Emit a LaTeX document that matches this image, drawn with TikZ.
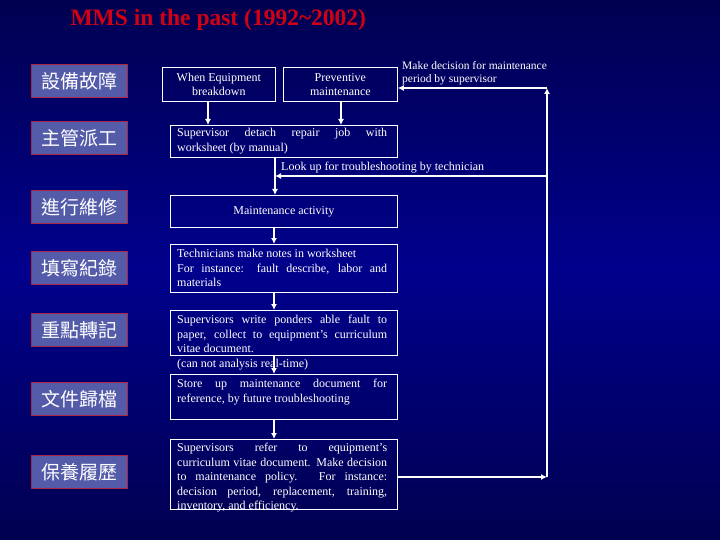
\documentclass[tikz,border=0pt]{standalone}
\usepackage{fontspec}
\setmainfont{Liberation Serif}
\newfontfamily\cjk{Noto Sans CJK TC}
\usetikzlibrary{arrows.meta}
\definecolor{bgmid}{RGB}{0,0,140}
\definecolor{bgedge}{RGB}{0,0,80}
\definecolor{lblfill}{RGB}{84,92,170}
\definecolor{lblborder}{RGB}{170,40,70}
\definecolor{titlered}{RGB}{210,0,20}
\hyphenpenalty=10000
\exhyphenpenalty=10000
\begin{document}
\begin{tikzpicture}[x=1pt,y=-1pt,
  lbl/.style={draw=lblborder,line width=1pt,fill=lblfill,minimum width=96pt,minimum height=33pt,inner sep=0pt,text=white,font=\cjk\fontsize{19}{22}\selectfont},
  box/.style={draw=white,line width=0.8pt,inner sep=0pt,anchor=north west},
  txt/.style={text=white,font=\fontsize{12}{14.5}\selectfont,align=justify,text width=210pt,inner sep=0pt,anchor=north west},
  ctxt/.style={text=white,font=\fontsize{12}{14}\selectfont,align=center,inner sep=0pt},
  arr/.style={draw=white,line width=1.2pt,-{Latex[length=6pt,width=6pt]}},
  ln/.style={draw=white,line width=1.2pt}]
\useasboundingbox (0,0) rectangle (720,540);
\shade[top color=bgedge,bottom color=bgedge,middle color=bgmid] (0,0) rectangle (720,540);
\node[text=titlered,font=\bfseries\fontsize{23.5}{26}\selectfont,anchor=west] (title) at (67,20) {MMS in the past (1992\textasciitilde 2002)};
% labels
\node[lbl] (l1) at (79,81) {設備故障};
\node[lbl] (l2) at (79,138) {主管派工};
\node[lbl] (l3) at (79,207) {進行維修};
\node[lbl] (l4) at (79,268) {填寫紀錄};
\node[lbl] (l5) at (79,330) {重點轉記};
\node[lbl] (l6) at (79,399) {文件歸檔};
\node[lbl] (l7) at (79,472) {保養履歷};
% boxes
\node[box,minimum width=113pt,minimum height=34pt] (we) at (162,67) {};
\node[ctxt] (wet) at (we.center) {When Equipment\\breakdown};
\node[box,minimum width=114pt,minimum height=34pt] (pm) at (283,67) {};
\node[ctxt] (pmt) at (pm.center) {Preventive\\maintenance};
\node[box,minimum width=227pt,minimum height=32pt] (sd) at (170,125) {};
\node[txt] (sdt) at (177,128) {Supervisor detach repair job with\linebreak worksheet (by manual)};
\node[box,minimum width=227pt,minimum height=32pt] (ma) at (170,195) {};
\node[ctxt] (mat) at (ma.center) {Maintenance activity};
\node[box,minimum width=227pt,minimum height=48pt] (tn) at (170,244) {};
\node[txt] (tnt) at (177,249) {Technicians make notes in worksheet\\For instance: fault describe, labor and materials};
\node[box,minimum width=227pt,minimum height=45pt] (sw) at (170,310) {};
\node[txt] (swt) at (177,315) {Supervisors write ponders able fault to paper, collect to equipment's curriculum vitae document.\\(can not analysis real-time)};
\node[box,minimum width=227pt,minimum height=45pt] (su) at (170,374) {};
\node[txt] (sut) at (177,379) {Store up maintenance document for reference, by future troubleshooting};
\node[box,minimum width=227pt,minimum height=70pt] (sr) at (170,439) {};
\node[txt] (srt) at (177,443) {Supervisors refer to equipment's\linebreak curriculum vitae document. Make decision\linebreak to maintenance policy. For instance:\linebreak decision period, replacement, training,\linebreak inventory, and efficiency.};
% labels of connectors
\node[ctxt,anchor=west,align=left,font=\fontsize{11.5}{13.5}\selectfont] (mdl) at (402,73) {Make decision for maintenance\\period by supervisor};
\node[ctxt,anchor=west] (lul) at (281,168) {Look up for troubleshooting by technician};
% connectors
\coordinate (c1) at (547,477);
\coordinate (c2) at (547,88);
\coordinate (c3) at (547,176);
\coordinate (c4) at (275,176);
\draw[arr] (208,101) -- (208,125);
\draw[arr] (341,101) -- (341,125);
\draw[arr] (275,157) -- (275,195);
\draw[arr] (274,227) -- (274,244);
\draw[arr] (274,292) -- (274,310);
\draw[arr] (274,355) -- (274,374);
\draw[arr] (274,419) -- (274,439);
\draw[arr] (sr.east |- c1) -- (c1);
\draw[arr] (c1) -- (c2);
\draw[arr] (c2) -- (pm.east |- c2);
\draw[arr] (c3) -- (c4);
\end{tikzpicture}
\end{document}
